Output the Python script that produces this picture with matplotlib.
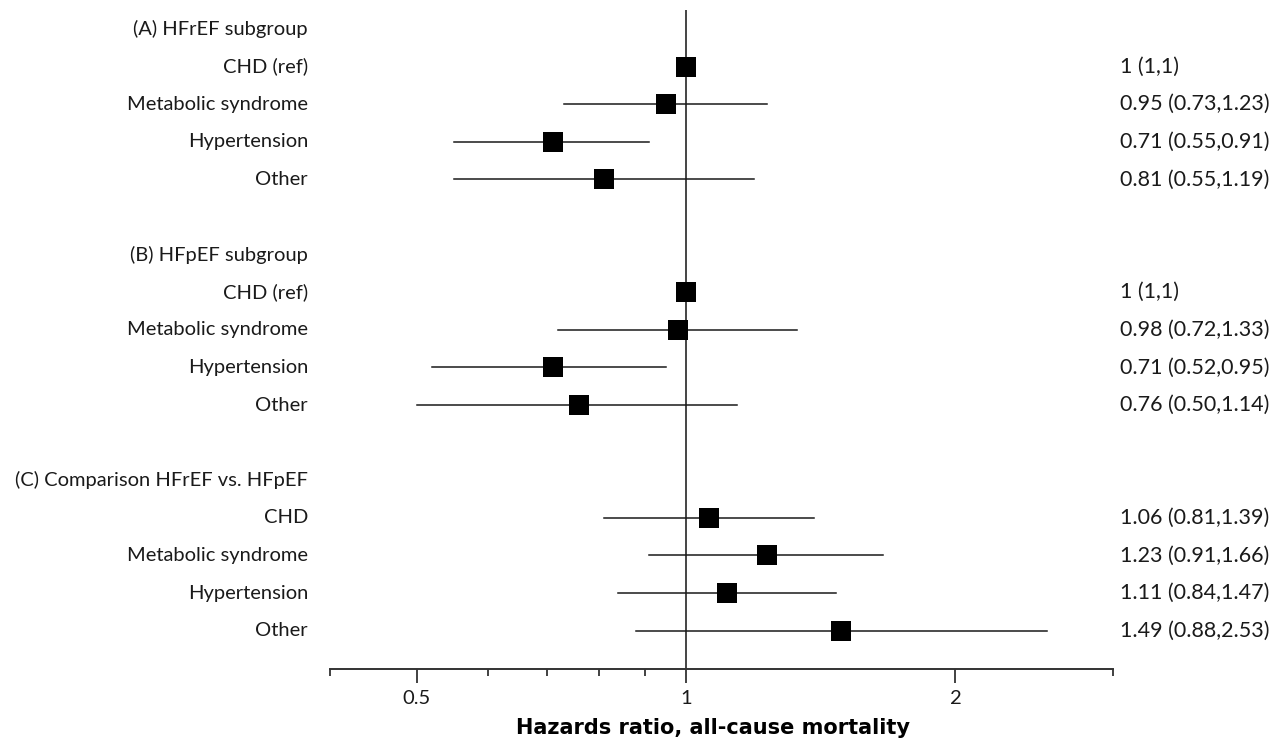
import matplotlib
matplotlib.use("Agg")
import matplotlib.pyplot as plt
import matplotlib.transforms as mtransforms
from matplotlib.ticker import FixedLocator, NullFormatter

# ---- data ----
headers = ["(A) HFrEF subgroup", "(B) HFpEF subgroup", "(C) Comparison HFrEF vs. HFpEF"]
labels_A = ["CHD (ref)", "Metabolic syndrome", "Hypertension", "Other"]
hr_A = [1.0, 0.95, 0.71, 0.81]
lo_A = [1.0, 0.73, 0.55, 0.55]
hi_A = [1.0, 1.23, 0.91, 1.19]
txt_A = ["1 (1,1)", "0.95 (0.73,1.23)", "0.71 (0.55,0.91)", "0.81 (0.55,1.19)"]

labels_B = ["CHD (ref)", "Metabolic syndrome", "Hypertension", "Other"]
hr_B = [1.0, 0.98, 0.71, 0.76]
lo_B = [1.0, 0.72, 0.52, 0.50]
hi_B = [1.0, 1.33, 0.95, 1.14]
txt_B = ["1 (1,1)", "0.98 (0.72,1.33)", "0.71 (0.52,0.95)", "0.76 (0.50,1.14)"]

labels_C = ["CHD", "Metabolic syndrome", "Hypertension", "Other"]
hr_C = [1.06, 1.23, 1.11, 1.49]
lo_C = [0.81, 0.91, 0.84, 0.88]
hi_C = [1.39, 1.66, 1.47, 2.53]
txt_C = ["1.06 (0.81,1.39)", "1.23 (0.91,1.66)", "1.11 (0.84,1.47)", "1.49 (0.88,2.53)"]

major_ticks = [0.5, 1, 2]
major_labels = ["0.5", "1", "2"]
minor_ticks = [0.4, 0.6, 0.7, 0.8, 0.9, 3]
xlabel = "Hazards ratio, all-cause mortality"

# ---- figure ----
W, H = 1287, 744
fig = plt.figure(figsize=(W / 100, H / 100), dpi=100)
ax_left, ax_right, ax_top, ax_bot = 330, 1113, 10, 669
ax = fig.add_axes([ax_left / W, 1 - ax_bot / H, (ax_right - ax_left) / W, (ax_bot - ax_top) / H])

FONT = "Lato"
FS = 14.5
FS_R = 15.5
ink = "#1a1a1a"

ax.set_xscale("log")
ax.set_xlim(0.4, 3.0)
ax.set_ylim(17.02, -0.505)

blend = mtransforms.blended_transform_factory(fig.transFigure, ax.transData)
xl = 308 / W
xr = 1120 / W

groups = [
    (labels_A, hr_A, lo_A, hi_A, txt_A),
    (labels_B, hr_B, lo_B, hi_B, txt_B),
    (labels_C, hr_C, lo_C, hi_C, txt_C),
]
ax.axvline(1.0, color="#444444", lw=1.4, zorder=1)
row = 0
for g, (labs, hr, lo, hi, txt) in enumerate(groups):
    ax.text(xl, row, headers[g], transform=blend, ha="right", va="center",
            fontsize=FS, family=FONT, color=ink)
    row += 1
    for lab, h, l, u, t in zip(labs, hr, lo, hi, txt):
        ax.plot([l, u], [row, row], color=ink, lw=1.1, zorder=2)
        ax.plot([h], [row], marker="s", markersize=14.5, color="black",
                markeredgewidth=0, zorder=3)
        ax.text(xl, row, lab, transform=blend, ha="right", va="center",
                fontsize=FS, family=FONT, color=ink)
        ax.text(xr, row, t, transform=blend, ha="left", va="center",
                fontsize=FS_R, family=FONT, color=ink)
        row += 1
    row += 1

for s in ["top", "left", "right"]:
    ax.spines[s].set_visible(False)
ax.spines["bottom"].set_color("#333333")
ax.spines["bottom"].set_linewidth(1.4)
ax.set_yticks([])
ax.xaxis.set_major_locator(FixedLocator(major_ticks))
ax.xaxis.set_minor_locator(FixedLocator(minor_ticks))
ax.xaxis.set_minor_formatter(NullFormatter())
ax.set_xticklabels(major_labels, fontsize=FS, family=FONT, color=ink)
ax.tick_params(axis="x", which="major", length=10, width=1.3, color="#333333", pad=5)
ax.tick_params(axis="x", which="minor", length=5, width=1.3, color="#333333")

fig.text(713 / W, 1 - 728 / H, xlabel, ha="center", va="center",
         fontsize=15, fontweight="bold", family="DejaVu Sans", color="black")

fig.savefig("out.png", dpi=100, facecolor="white")
